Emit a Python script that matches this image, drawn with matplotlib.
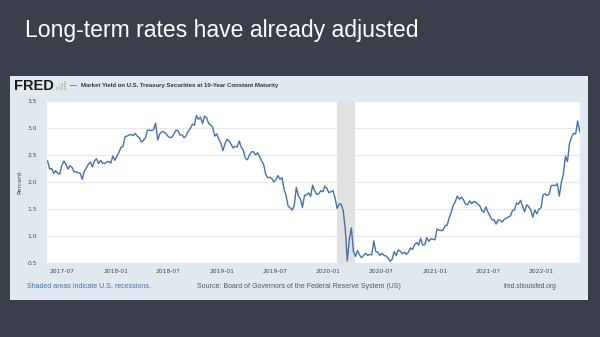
import pandas as pd
import matplotlib.pyplot as plt
import matplotlib.dates as mdates
from matplotlib.patches import Rectangle

# weekly 10-year treasury yield (percent), Fridays from 2017-05-12
yields_2017 = [2.39, 2.24, 2.25, 2.16, 2.21, 2.16, 2.15, 2.31, 2.39, 2.33, 2.24, 2.30,
               2.27, 2.19, 2.19, 2.17, 2.16, 2.05, 2.20, 2.26, 2.33, 2.37, 2.28, 2.39,
               2.43, 2.34, 2.40, 2.35, 2.34, 2.37, 2.38, 2.35, 2.48, 2.40]
yields_2018 = [2.48, 2.55, 2.64, 2.66, 2.84, 2.85, 2.87, 2.88, 2.86, 2.90, 2.85, 2.82,
               2.74, 2.77, 2.82, 2.96, 2.96, 2.95, 2.97, 3.09, 2.78, 2.89, 2.93, 2.93,
               2.90, 2.85, 2.82, 2.83, 2.89, 2.96, 2.95, 2.87, 2.87, 2.82, 2.86, 2.94,
               2.99, 3.07, 3.05, 3.23, 3.16, 3.20, 3.08, 3.22, 3.19, 3.08, 3.06, 3.01,
               2.85, 2.89, 2.79, 2.72]
yields_2019 = [2.58, 2.71, 2.79, 2.76, 2.70, 2.63, 2.66, 2.65, 2.76, 2.64, 2.59, 2.44,
               2.41, 2.50, 2.56, 2.56, 2.50, 2.54, 2.47, 2.39, 2.32, 2.14, 2.08, 2.09,
               2.06, 2.00, 2.04, 2.12, 2.05, 2.08, 1.86, 1.75, 1.55, 1.52, 1.48, 1.57,
               1.90, 1.74, 1.69, 1.53, 1.75, 1.76, 1.80, 1.73, 1.94, 1.84, 1.77, 1.78,
               1.84, 1.82, 1.92, 1.88]
yields_2020 = [1.80, 1.82, 1.84, 1.70, 1.51, 1.59, 1.59, 1.47, 1.13, 0.54, 0.94, 1.15,
               0.72, 0.62, 0.73, 0.65, 0.60, 0.64, 0.68, 0.64, 0.66, 0.65, 0.91, 0.71,
               0.70, 0.64, 0.68, 0.64, 0.63, 0.59, 0.53, 0.57, 0.71, 0.64, 0.74, 0.72,
               0.67, 0.70, 0.66, 0.70, 0.78, 0.75, 0.84, 0.88, 0.83, 0.96, 0.83, 0.84,
               0.97, 0.90, 0.95, 0.94]
yields_2021 = [0.93, 1.13, 1.11, 1.10, 1.11, 1.19, 1.20, 1.34, 1.44, 1.57, 1.64, 1.74,
               1.68, 1.72, 1.67, 1.59, 1.58, 1.65, 1.60, 1.64, 1.63, 1.59, 1.56, 1.47,
               1.44, 1.54, 1.44, 1.37, 1.30, 1.30, 1.22, 1.30, 1.29, 1.26, 1.31, 1.33,
               1.35, 1.37, 1.47, 1.48, 1.61, 1.59, 1.66, 1.55, 1.45, 1.58, 1.54, 1.48,
               1.35, 1.48, 1.41, 1.50, 1.52]
yields_2022 = [1.76, 1.78, 1.75, 1.78, 1.93, 1.94, 1.93, 1.97, 1.74, 2.00, 2.14, 2.48,
               2.38, 2.72, 2.83, 2.90, 2.89, 3.13, 2.93]

yields = yields_2017 + yields_2018 + yields_2019 + yields_2020 + yields_2021 + yields_2022
dates = pd.date_range("2017-05-12", periods=len(yields), freq="W-FRI")
assert dates[-1] == pd.Timestamp("2022-05-13"), dates[-1]

recession_start = "2020-02-01"
recession_end = "2020-04-01"

bg = "#3a3f4b"
panel = "#e1e9f0"
fred_blue = "#4572a7"

fig = plt.figure(figsize=(6, 3.37), dpi=100, facecolor=bg)

# title
fig.text(25 / 600, 1 - 31 / 337, "Long-term rates have already adjusted",
         color="white", fontsize=16.6, family="Liberation Sans", va="center", ha="left")

# light FRED panel
fig.patches.append(Rectangle((10 / 600, 1 - 300 / 337), 578 / 600, 224 / 337,
                             transform=fig.transFigure, facecolor=panel,
                             edgecolor="none", zorder=-1))

# FRED header
fig.text(14 / 600, 1 - 86 / 337, "FRED", fontsize=10.5, fontweight="bold",
         color="#1a1a1a", family="Liberation Sans", va="center", ha="left")
for i, h in enumerate([3, 5, 7, 9]):
    fig.patches.append(Rectangle(((56 + i * 2.5) / 600, 1 - 90 / 337), 2 / 600, h / 337,
                                 transform=fig.transFigure, facecolor="#b9d3a9",
                                 edgecolor="none", zorder=1))
fig.text(70 / 600, 1 - 86 / 337, "—", fontsize=5, color=fred_blue,
         family="Liberation Sans", va="center", ha="left", fontweight="bold")
fig.text(81 / 600, 1 - 86 / 337,
         "Market Yield on U.S. Treasury Securities at 10-Year Constant Maturity",
         fontsize=4.3, color="#333333", family="Liberation Sans",
         fontweight="bold", va="center", ha="left")

ax = fig.add_axes([47 / 600, 1 - 263 / 337, 533 / 600, 162 / 337])
ax.set_zorder(2)
ax.set_facecolor("white")
ax.axvspan(pd.Timestamp(recession_start), pd.Timestamp(recession_end),
           color="#e1e1e1", zorder=1, lw=0)
ax.plot(dates, yields, color=fred_blue, lw=1.0, zorder=3)

ax.set_ylim(0.5, 3.5)
ax.set_xlim(pd.Timestamp("2017-05-10"), pd.Timestamp("2022-05-14"))
ax.set_yticks([0.5, 1.0, 1.5, 2.0, 2.5, 3.0, 3.5])
ax.xaxis.set_major_locator(mdates.MonthLocator(bymonth=[1, 7]))
ax.xaxis.set_major_formatter(mdates.DateFormatter("%Y-%m"))
ax.grid(axis="y", color="#e8e8e8", lw=0.8, zorder=0)
ax.set_axisbelow(True)
for s in ax.spines.values():
    s.set_visible(False)
ax.tick_params(axis="both", length=0, labelsize=4.3, labelcolor="#444444")
ax.tick_params(axis="y", pad=7)
ax.tick_params(axis="x", pad=4)
ax.set_ylabel("Percent", fontsize=4.5, color="#444444", labelpad=4)

# footer
fig.text(27 / 600, 1 - 287 / 337, "Shaded areas indicate U.S. recessions.",
         fontsize=5.0, color=fred_blue, family="Liberation Sans", va="center")
fig.text(197 / 600, 1 - 287 / 337,
         "Source: Board of Governors of the Federal Reserve System (US)",
         fontsize=5.0, color="#555555", family="Liberation Sans", va="center")
fig.text(557 / 600, 1 - 287 / 337, "fred.stlouisfed.org",
         fontsize=4.8, color="#555555", family="Liberation Sans", va="center", ha="right")

fig.savefig("out.png", dpi=100, facecolor=bg)
